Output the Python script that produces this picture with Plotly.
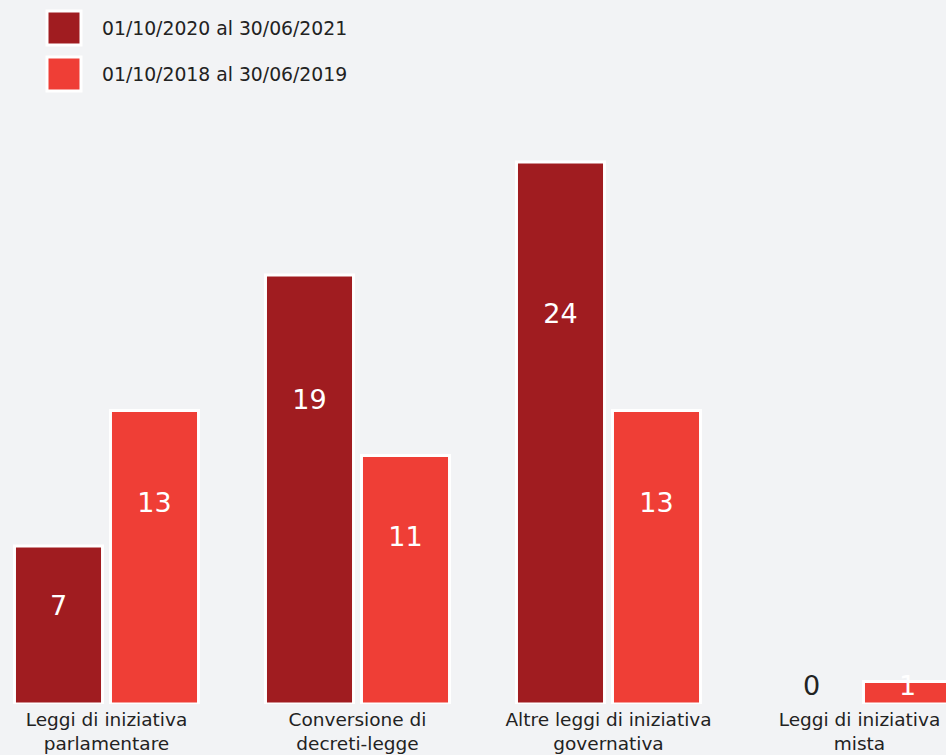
import plotly.graph_objects as go

categories = ["Leggi di iniziativa<br>parlamentare", "Conversione di<br>decreti-legge",
              "Altre leggi di iniziativa<br>governativa", "Leggi di iniziativa<br>mista"]
series_names = ["01/10/2020 al 30/06/2021", "01/10/2018 al 30/06/2019"]
values_2021 = [7, 19, 24, 0]
values_2019 = [13, 11, 13, 1]

DARK = "#a01c20"
LIGHT = "#ef3e36"
BG = "#f2f3f5"
TXT = "#222222"
FONT = "DejaVu Sans"

W, H = 946, 755
T, B = 120, 51
PX_PER_UNIT = 22.58
plot_h = H - T - B
ymax = plot_h / PX_PER_UNIT

idx = list(range(len(categories)))
slot = 0.3825
fig = go.Figure()
for name, vals, col in [(series_names[0], values_2021, DARK), (series_names[1], values_2019, LIGHT)]:
    fig.add_trace(go.Bar(
        x=idx, y=vals, name=name,
        marker=dict(color=col, line=dict(color="white", width=[3 if v > 0 else 0 for v in vals])),
        hoverinfo="y+name", showlegend=False,
    ))

def label_y(v):
    return max(0.762 * v - 1.1, 0.7)

for k, vals in enumerate([values_2021, values_2019]):
    off = -slot / 2 if k == 0 else slot / 2
    fig.add_trace(go.Scatter(
        x=[i + off for i in idx], y=[label_y(v) for v in vals],
        text=[str(v) for v in vals], mode="text",
        textfont=dict(family=FONT, size=27, color=["white" if v > 0 else TXT for v in vals]),
        hoverinfo="skip", showlegend=False,
    ))

# manual legend
for j, (name, col) in enumerate([(series_names[0], DARK), (series_names[1], LIGHT)]):
    top_px = 11 + j * 46
    y0 = (H - B - (top_px + 34)) / plot_h
    y1 = (H - B - top_px) / plot_h
    fig.add_shape(type="rect", xref="paper", yref="paper", x0=47 / W, x1=81 / W, y0=y0, y1=y1,
                  fillcolor=col, line=dict(color="white", width=3))
    fig.add_annotation(xref="paper", yref="paper", x=100 / W, y=(y0 + y1) / 2, text=name,
                       showarrow=False, xanchor="left", yanchor="middle",
                       font=dict(family=FONT, size=18.8, color=TXT))

c0, sp = 106.5, 251.0
fig.update_layout(
    width=W, height=H,
    margin=dict(l=0, r=0, t=T, b=B),
    paper_bgcolor=BG, plot_bgcolor=BG,
    barmode="group", bargap=0.235, bargroupgap=0.083,
    font=dict(family=FONT, color=TXT),
    xaxis=dict(range=[-c0 / sp, (W - c0) / sp], tickvals=idx, ticktext=categories,
               showgrid=False, zeroline=False, showline=False, ticks="",
               ticklabelstandoff=2, automargin=False,
               tickfont=dict(family=FONT, size=18.5, color=TXT)),
    yaxis=dict(range=[0, ymax], visible=False, showgrid=False, zeroline=False),
)

fig.write_html("out.html")
